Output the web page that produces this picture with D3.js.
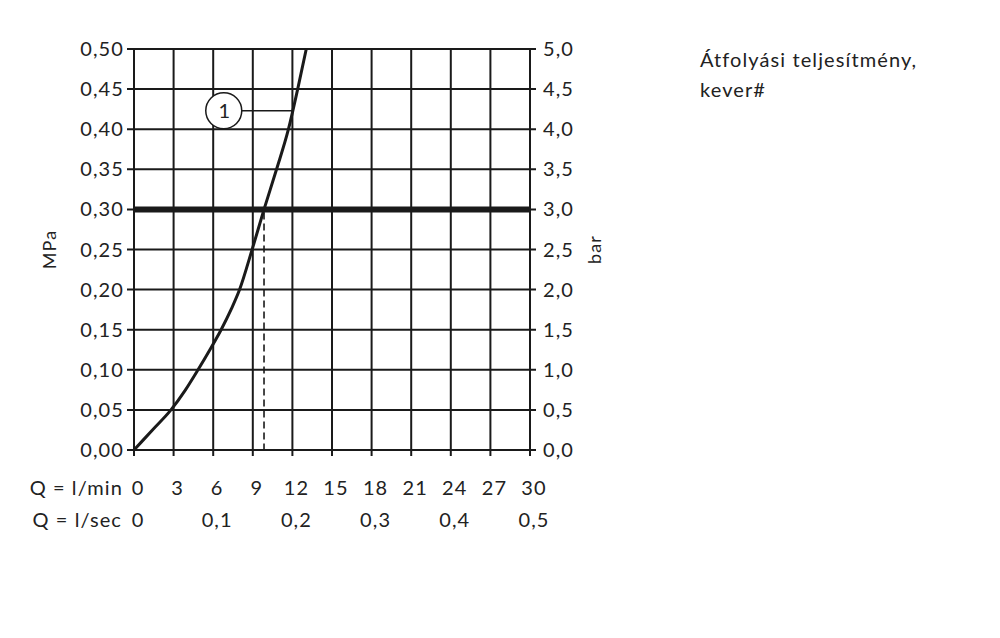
<!DOCTYPE html>
<html>
<head>
<meta charset="utf-8">
<script src="https://cdn.jsdelivr.net/npm/d3@7"></script>
<style>
  body { margin: 0; background: #fff; }
  text { font-family: Lato, "Open Sans", sans-serif; fill: #222; letter-spacing: 1.1px; }
</style>
</head>
<body>
<svg id="svg1" width="1000" height="638"></svg>
<script>
// flow in l/min, pressure in MPa
var flowLmin = [0, 1.4, 2.8, 3.9, 4.85, 5.75, 6.6, 7.35, 8.0, 8.95, 9.85, 10.8, 11.7, 12.4, 13.05];
var pressMPa = [0, 0.025, 0.05, 0.075, 0.10, 0.125, 0.15, 0.175, 0.20, 0.25, 0.30, 0.35, 0.40, 0.45, 0.50];

var lminTicks = [0, 3, 6, 9, 12, 15, 18, 21, 24, 27, 30];
var lsecTicks = [0, 0.1, 0.2, 0.3, 0.4, 0.5];
var mpaTicks = [0, 0.05, 0.10, 0.15, 0.20, 0.25, 0.30, 0.35, 0.40, 0.45, 0.50];
var barTicks = [0, 0.5, 1.0, 1.5, 2.0, 2.5, 3.0, 3.5, 4.0, 4.5, 5.0];

var refPressure = 0.30;   // thick line
var refFlow = 9.85;       // dashed drop line
var curveLabel = '1';
var labelAt = [6.8, 0.423];
var leaderEndFlow = 12.0;

var titleLines = ['Átfolyási teljesítmény,', 'kever#'];

var marginLeft = 134;
var marginTop = 49;
var plotW = 396;
var plotH = 401;

var svg = d3.select('#svg1');
var g = svg.append('g')
    .attr('transform', 'translate(' + marginLeft + ',' + marginTop + ')');

var scaleX = d3.scaleLinear().domain([0, 30]).range([0, plotW]);
var scaleY = d3.scaleLinear().domain([0, 0.5]).range([plotH, 0]);
var scaleBar = d3.scaleLinear().domain([0, 5]).range([plotH, 0]);
var scaleSec = d3.scaleLinear().domain([0, 0.5]).range([0, plotW]);

var ink = '#1a1a1a';
var comma = function(f) { return function(d) { return d3.format(f)(d).replace('.', ','); }; };

// grid
g.selectAll('.vgrid').data(lminTicks).enter().append('line')
    .attr('x1', function(d){ return scaleX(d); })
    .attr('x2', function(d){ return scaleX(d); })
    .attr('y1', 0).attr('y2', plotH + 6)
    .attr('stroke', ink).attr('stroke-width', 2);

g.selectAll('.hgrid').data(mpaTicks).enter().append('line')
    .attr('x1', -7).attr('x2', plotW + 6)
    .attr('y1', function(d){ return scaleY(d); })
    .attr('y2', function(d){ return scaleY(d); })
    .attr('stroke', ink).attr('stroke-width', 2);

// thick reference line
g.append('line')
    .attr('x1', 0).attr('x2', plotW)
    .attr('y1', scaleY(refPressure)).attr('y2', scaleY(refPressure))
    .attr('stroke', ink).attr('stroke-width', 6);

// dashed drop line
g.append('line')
    .attr('x1', scaleX(refFlow)).attr('x2', scaleX(refFlow))
    .attr('y1', scaleY(refPressure) + 3).attr('y2', plotH)
    .attr('stroke', ink).attr('stroke-width', 1.6)
    .attr('stroke-dasharray', '7,4');

// curve
var pts = flowLmin.map(function(d, i){ return [d, pressMPa[i]]; });
g.append('path')
    .datum(pts)
    .attr('fill', 'none')
    .attr('stroke', ink)
    .attr('stroke-width', 3)
    .attr('d', d3.line()
        .x(function(d){ return scaleX(d[0]); })
        .y(function(d){ return scaleY(d[1]); })
        .curve(d3.curveMonotoneX));

// label circle + leader
var r = 18;
g.append('line')
    .attr('x1', scaleX(labelAt[0]) + r).attr('x2', scaleX(leaderEndFlow))
    .attr('y1', scaleY(labelAt[1])).attr('y2', scaleY(labelAt[1]))
    .attr('stroke', ink).attr('stroke-width', 1.5);
g.append('circle')
    .attr('cx', scaleX(labelAt[0])).attr('cy', scaleY(labelAt[1]))
    .attr('r', r).attr('fill', '#fff')
    .attr('stroke', ink).attr('stroke-width', 1.5);
g.append('text')
    .attr('x', scaleX(labelAt[0]) + 1).attr('y', scaleY(labelAt[1]) + 7)
    .attr('text-anchor', 'middle')
    .style('font-size', '20px')
    .text(curveLabel);

// left labels
g.selectAll('.ylab').data(mpaTicks).enter().append('text')
    .attr('x', -10)
    .attr('y', function(d){ return scaleY(d) + 7; })
    .attr('text-anchor', 'end')
    .style('font-size', '20px')
    .text(comma('.2f'));

// right labels
g.selectAll('.blab').data(barTicks).enter().append('text')
    .attr('x', plotW + 13)
    .attr('y', function(d){ return scaleBar(d) + 7; })
    .style('font-size', '20px')
    .text(comma('.1f'));

// bottom labels
g.selectAll('.xlab').data(lminTicks).enter().append('text')
    .attr('x', function(d){ return scaleX(d) + 4; })
    .attr('y', plotH + 45)
    .attr('text-anchor', 'middle')
    .style('font-size', '20px')
    .text(function(d){ return d; });

g.selectAll('.slab').data(lsecTicks).enter().append('text')
    .attr('x', function(d){ return scaleSec(d) + 4; })
    .attr('y', plotH + 77)
    .attr('text-anchor', 'middle')
    .style('font-size', '20px')
    .text(function(d){ return d === 0 ? '0' : comma('.1f')(d); });

g.append('text').attr('x', -11).attr('y', plotH + 45)
    .attr('text-anchor', 'end').style('font-size', '20px').text('Q = l/min');
g.append('text').attr('x', -12).attr('y', plotH + 77)
    .attr('text-anchor', 'end').style('font-size', '20px').text('Q = l/sec');

// axis titles
svg.append('text')
    .attr('transform', 'translate(56,' + (marginTop + scaleY(0.25)) + ') rotate(-90)')
    .attr('text-anchor', 'middle')
    .style('font-size', '18px')
    .text('MPa');
svg.append('text')
    .attr('transform', 'translate(601,' + (marginTop + scaleY(0.25)) + ') rotate(-90)')
    .attr('text-anchor', 'middle')
    .style('font-size', '18px')
    .text('bar');

// title
svg.selectAll('.title').data(titleLines).enter().append('text')
    .attr('x', 700)
    .attr('y', function(d, i){ return 67 + i * 30; })
    .style('font-size', '20px')
    .text(function(d){ return d; });
</script>
</body>
</html>
